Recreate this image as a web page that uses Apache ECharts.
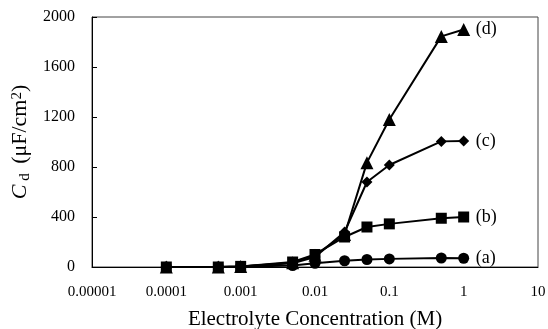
<!DOCTYPE html>
<html>
<head>
<meta charset="utf-8">
<script src="https://cdn.jsdelivr.net/npm/echarts@6/dist/echarts.min.js"></script>
<style>
  html, body { margin: 0; padding: 0; background: #fff; }
  #chart { width: 548px; height: 329px; }
</style>
</head>
<body>
<div id="chart"></div>
<script>
// concentrations (M)
const concentrations = [0.0001, 0.0005, 0.001, 0.005, 0.01, 0.025, 0.05, 0.1, 0.5, 1];
const seriesA = [0, 0, 2, 12, 30, 50, 60, 65, 72, 70];
const seriesB = [0, 0, 5, 40, 100, 240, 320, 345, 390, 400];
const seriesC = [0, 0, 4, 30, 80, 280, 680, 816, 1005, 1008];
const seriesD = [0, 0, 4, 35, 95, 260, 835, 1180, 1845, 1900];
const xTickLabels = ['0.00001', '0.0001', '0.001', '0.01', '0.1', '1', '10'];
const seriesNames = ['(a)', '(b)', '(c)', '(d)'];

const chart = echarts.init(document.getElementById('chart'));
const font = 'Liberation Serif';

function makeSeries(name, values, symbol, size) {
  return {
    name: name,
    type: 'line',
    data: concentrations.map((c, i) => [c, values[i]]),
    symbol: symbol,
    symbolSize: size,
    lineStyle: { color: '#000', width: 2 },
    itemStyle: { color: '#000' },
    endLabel: {
      show: true,
      formatter: name,
      fontFamily: font,
      fontSize: 18,
      color: '#000',
      distance: 12
    },
    animation: false
  };
}

chart.setOption({
  backgroundColor: '#fff',
  grid: {
    left: 92,
    right: 10,
    top: 17,
    bottom: 62,
    outerBoundsMode: 'none',
    containLabel: false,
    show: true,
    borderColor: '#444',
    borderWidth: 1
  },
  xAxis: {
    type: 'log',
    logBase: 10,
    min: 0.00001,
    max: 10,
    name: 'Electrolyte Concentration (M)',
    nameLocation: 'middle',
    nameGap: 42,
    nameTextStyle: { fontFamily: font, fontSize: 21, color: '#000' },
    axisLine: { lineStyle: { color: '#000' } },
    axisTick: { show: false },
    splitLine: { show: false },
    axisLabel: {
      fontFamily: font,
      fontSize: 15,
      color: '#000',
      margin: 18,
      formatter: (v, i) => xTickLabels[i]
    }
  },
  yAxis: {
    type: 'value',
    min: 0,
    max: 2000,
    interval: 400,
    name: '{i|C}{sub| d} (μF/cm{sup|2})',
    nameLocation: 'middle',
    nameRotate: 90,
    nameGap: 54,
    nameTextStyle: {
      fontFamily: font,
      fontSize: 22,
      color: '#000',
      rich: {
        i: { fontFamily: font, fontSize: 22, fontStyle: 'italic', color: '#000' },
        sub: { fontFamily: font, fontSize: 15, color: '#000', verticalAlign: 'bottom', padding: [8, 4, 0, 0] },
        sup: { fontFamily: font, fontSize: 15, color: '#000', verticalAlign: 'top', padding: [0, 0, 8, 0] }
      }
    },
    axisLine: { show: true, lineStyle: { color: '#000' } },
    axisTick: { show: true, inside: true, length: 5, lineStyle: { color: '#000' } },
    splitLine: { show: false },
    axisLabel: {
      fontFamily: font,
      fontSize: 16,
      color: '#000',
      margin: 17,
      formatter: (v) => String(v)
    }
  },
  series: [
    makeSeries(seriesNames[0], seriesA, 'circle', 11),
    makeSeries(seriesNames[1], seriesB, 'rect', 11),
    makeSeries(seriesNames[2], seriesC, 'diamond', 11),
    makeSeries(seriesNames[3], seriesD, 'triangle', 13)
  ]
});
</script>
</body>
</html>
